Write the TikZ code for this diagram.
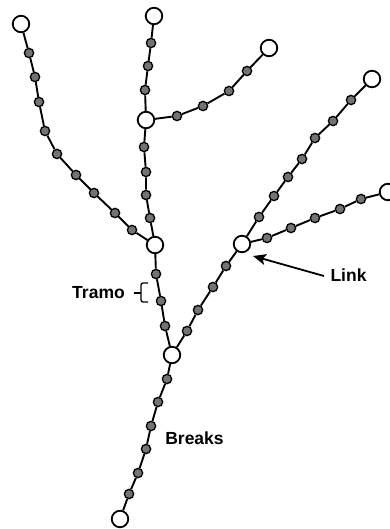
\documentclass[tikz,border=0pt]{standalone}
\usepackage{fontspec}
\setmainfont{Liberation Sans}
\usetikzlibrary{arrows.meta}
\begin{document}
\begin{tikzpicture}[x=1pt,y=-1pt,
  bignode/.style={circle,draw=black,fill=white,line width=1.8pt,minimum size=16.5pt,inner sep=0pt},
  bead/.style={circle,draw=black,fill=black!55,line width=1.3pt,minimum size=9.3pt,inner sep=0pt},
  seg/.style={draw=black,line width=1.9pt},
  lbl/.style={font=\fontsize{17.5}{20}\selectfont\bfseries,inner sep=0pt}]
\useasboundingbox (0,0) rectangle (389,529);
% big nodes
\node[bignode] (A) at (21,24) {};
\node[bignode] (B) at (154,16) {};
\node[bignode] (C) at (269,48) {};
\node[bignode] (D) at (146,120) {};
\node[bignode] (E) at (155,245) {};
\node[bignode] (F) at (372,79) {};
\node[bignode] (G) at (388,192) {};
\node[bignode] (H) at (242,244) {};
\node[bignode] (I) at (172,355) {};
\node[bignode] (J) at (120,519) {};
% chain A-E
\foreach \i/\p in {1/{(29,53)},2/{(35,77)},3/{(39,102)},4/{(45,131)},5/{(57,154)},6/{(76,175)},7/{(94,193)},8/{(115,213)},9/{(132,230)}}
  \node[bead] (a\i) at \p {};
\draw[seg] (A)--(a1)--(a2)--(a3)--(a4)--(a5)--(a6)--(a7)--(a8)--(a9)--(E);
% chain B-D
\foreach \i/\p in {1/{(151,43)},2/{(148,66)},3/{(145,90)}}
  \node[bead] (b\i) at \p {};
\draw[seg] (B)--(b1)--(b2)--(b3)--(D);
% chain D-E
\foreach \i/\p in {1/{(144,147)},2/{(146,172)},3/{(146,195)},4/{(150,218)}}
  \node[bead] (d\i) at \p {};
\draw[seg] (D)--(d1)--(d2)--(d3)--(d4)--(E);
% chain D-C
\foreach \i/\p in {1/{(177,116)},2/{(203,106)},3/{(229,91)},4/{(247,71)}}
  \node[bead] (c\i) at \p {};
\draw[seg] (D)--(c1)--(c2)--(c3)--(c4)--(C);
% chain H-F
\foreach \i/\p in {1/{(259,217)},2/{(274,196)},3/{(288,177)},4/{(302,159)},5/{(315,138)},6/{(333,121)},7/{(351,100)}}
  \node[bead] (f\i) at \p {};
\draw[seg] (H)--(f1)--(f2)--(f3)--(f4)--(f5)--(f6)--(f7)--(F);
% chain H-G
\foreach \i/\p in {1/{(267,238)},2/{(291,228)},3/{(315,218)},4/{(340,209)},5/{(361,199)}}
  \node[bead] (g\i) at \p {};
\draw[seg] (H)--(g1)--(g2)--(g3)--(g4)--(g5)--(G);
% chain E-I
\foreach \i/\p in {1/{(156,274)},2/{(161,301)},3/{(165,326)}}
  \node[bead] (e\i) at \p {};
\draw[seg] (E)--(e1)--(e2)--(e3)--(I);
% chain H-I
\foreach \i/\p in {1/{(226,266)},2/{(213,287)},3/{(198,310)},4/{(187,331)}}
  \node[bead] (h\i) at \p {};
\draw[seg] (H)--(h1)--(h2)--(h3)--(h4)--(I);
% chain I-J
\foreach \i/\p in {1/{(167,379)},2/{(158,402)},3/{(151,426)},4/{(146,449)},5/{(138,473)},6/{(129,494)}}
  \node[bead] (j\i) at \p {};
\draw[seg] (I)--(j1)--(j2)--(j3)--(j4)--(j5)--(j6)--(J);
% labels
\node[lbl] (tramo) at (98.5,293) {Tramo};
\node[lbl] (breaks) at (194.5,438) {Breaks};
\node[lbl] (link) at (348.5,275) {Link};
% brace
\coordinate (brtop) at (148,283);
\coordinate (brbot) at (148,302);
\coordinate (brtip) at (134,293);
\draw[line width=1.3pt,rounded corners=2pt] (brtop) -- (141,283) -- (141,302) -- (brbot);
\draw[line width=1.3pt] (141,293) -- (brtip);
% arrow
\coordinate (ltail) at (324,276);
\coordinate (lhead) at (253,256);
\draw[line width=1.8pt,-{Stealth[length=13pt,width=11pt,inset=3pt]}] (ltail) -- (lhead);
\end{tikzpicture}
\end{document}
